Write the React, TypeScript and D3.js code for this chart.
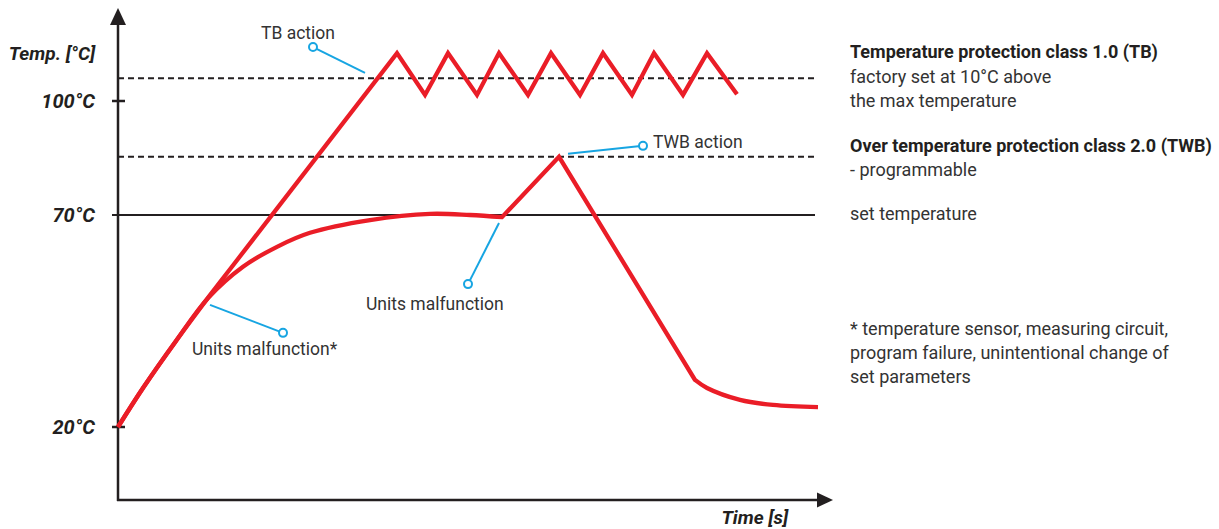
import React from "react";
import * as d3 from "d3";

// ---- data (time in arbitrary units, temperature in °C) ----
const yTickValues = [20, 70, 100];
const yTickLabels = ["20°C", "70°C", "100°C"];
const setTemperature = 70;
const tbLevel = 106;
const twbLevel = 85.3;

// shared heating start (curved)
const heatStart: [number, number][] = [
  [0, 20], [2.5, 29.2], [5.8, 40.3], [9.2, 51.1], [11.2, 57.2],
];
// TB curve: straight rise then on/off oscillation around TB level
const tbRise: [number, number][] = [[11.2, 57.2], [27.9, 112.6]];
const tbOscTime = [27.9, 30.7, 33.0, 35.9, 38.1, 41.0, 43.3, 46.2, 48.5, 51.4, 53.6, 56.5, 58.9, 61.9];
const tbOscTemp = [112.6, 101.6, 112.6, 101.6, 112.6, 101.6, 112.6, 101.6, 112.6, 101.6, 112.6, 101.6, 112.6, 101.8];

// TWB curve: approach set temperature, malfunction, TWB cut-off, cooling
const twbApproach: [number, number][] = [
  [0, 20], [2.5, 29.2], [5.8, 40.3], [9.0, 50.4], [12.5, 57.8], [15.9, 62.5], [19.2, 65.8],
  [25.2, 68.8], [31.2, 70.3], [35.2, 70.0], [38.4, 69.5],
];
const twbRiseFall: [number, number][] = [[38.4, 69.5], [44.1, 85.3], [57.7, 31.1]];
const twbCooling: [number, number][] = [
  [57.7, 31.1], [58.9, 29.2], [62.2, 26.4], [65.5, 25.2], [70.0, 24.7],
];

// callouts: line start (t, T) and circle (t, T)
const callouts = [
  { label: "TB action", from: [24.7, 107.4], to: [19.5, 114.2], tx: 261, ty: 39 },
  { label: "TWB action", from: [45.0, 86.1], to: [52.5, 88.2], tx: 653, ty: 148 },
  { label: "Units malfunction", from: [38.1, 68.1], to: [35.0, 53.7], tx: 366, ty: 310 },
  { label: "Units malfunction*", from: [9.2, 48.8], to: [16.5, 42.2], tx: 192, ty: 355 },
];

const notes = [
  { text: "Temperature protection class 1.0 (TB)", bold: true, y: 58 },
  { text: "factory set at 10°C above", bold: false, y: 83 },
  { text: "the max temperature", bold: false, y: 107 },
  { text: "Over temperature protection class 2.0 (TWB)", bold: true, y: 152 },
  { text: "- programmable", bold: false, y: 176 },
  { text: "set temperature", bold: false, y: 220 },
  { text: "* temperature sensor, measuring circuit,", bold: false, y: 335 },
  { text: "program failure, unintentional change of", bold: false, y: 359 },
  { text: "set parameters", bold: false, y: 383 },
];

const RED = "#ea1d27";
const BLUE = "#17a5e2";
const DARK = "#231f20";
const TEXT = "#333333";
const FONT = "Roboto, 'Open Sans', sans-serif";

export default function App() {
  const x = d3.scaleLinear().domain([0, 70]).range([118, 818]);
  const y = d3.scaleLinear().domain([20, 70, 100]).range([427, 215, 101]);

  const smooth = d3.line<[number, number]>().x(d => x(d[0])).y(d => y(d[1])).curve(d3.curveCatmullRom.alpha(0.5));
  const straight = d3.line<[number, number]>().x(d => x(d[0])).y(d => y(d[1])).curve(d3.curveLinear);
  const join = (segs: string[]) => segs.map((d, i) => (i === 0 ? d : "L" + d.slice(1))).join("");

  const tbOsc: [number, number][] = tbOscTime.map((t, i) => [t, tbOscTemp[i]]);
  const tbPath = join([smooth(heatStart)!, straight(tbRise)!, straight(tbOsc)!]);
  const twbPath = join([smooth(twbApproach)!, straight(twbRiseFall)!, smooth(twbCooling)!]);

  const x0 = x(0);
  const yAxisBottom = 500;
  const lineEnd = 815;

  return (
    <svg width={1219} height={529} style={{ position: "absolute", left: 0, top: 0, background: "#fff" }} fontFamily={FONT}>
      {/* reference lines */}
      <line x1={x0} x2={lineEnd} y1={y(tbLevel)} y2={y(tbLevel)} stroke={DARK} strokeWidth={2} strokeDasharray="6 4" />
      <line x1={x0} x2={lineEnd} y1={y(twbLevel)} y2={y(twbLevel)} stroke={DARK} strokeWidth={2} strokeDasharray="6 4" />
      <line x1={x0 - 6} x2={lineEnd} y1={y(setTemperature)} y2={y(setTemperature)} stroke={DARK} strokeWidth={2} />

      {/* axes */}
      <line x1={x0} x2={x0} y1={yAxisBottom + 1} y2={22} stroke={DARK} strokeWidth={2.5} />
      <path d={`M${x0},8 L${x0 - 8},25 L${x0 + 8},25 Z`} fill={DARK} />
      <line x1={x0 - 1} x2={820} y1={yAxisBottom} y2={yAxisBottom} stroke={DARK} strokeWidth={2.5} />
      <path d={`M833,${yAxisBottom} L817,${yAxisBottom - 7.5} L817,${yAxisBottom + 7.5} Z`} fill={DARK} />
      {yTickValues.map((v, i) => (
        <g key={v}>
          {v !== setTemperature && (
            <line x1={x0 - 6} x2={x0 + 7} y1={y(v)} y2={y(v)} stroke={DARK} strokeWidth={2.5} />
          )}
          <text x={95} y={y(v) + 7} textAnchor="end" fontSize={20} fontWeight={700} fontStyle="italic" fill={DARK}>
            {yTickLabels[i]}
          </text>
        </g>
      ))}
      <text x={95} y={60} textAnchor="end" fontSize={19} fontWeight={700} fontStyle="italic" fill={DARK}>Temp. [°C]</text>
      <text x={788} y={524} textAnchor="end" fontSize={19} fontWeight={700} fontStyle="italic" fill={DARK}>Time [s]</text>

      {/* curves */}
      <path d={tbPath} fill="none" stroke={RED} strokeWidth={4.3} strokeLinejoin="miter" />
      <path d={twbPath} fill="none" stroke={RED} strokeWidth={4.3} strokeLinejoin="miter" />

      {/* callouts */}
      {callouts.map(c => (
        <g key={c.label}>
          <line x1={x(c.from[0])} y1={y(c.from[1])} x2={x(c.to[0])} y2={y(c.to[1])} stroke={BLUE} strokeWidth={2} />
          <circle cx={x(c.to[0])} cy={y(c.to[1])} r={4} fill="#fff" stroke={BLUE} strokeWidth={2} />
          <text x={c.tx} y={c.ty} fontSize={17.5} fill={TEXT}>{c.label}</text>
        </g>
      ))}

      {/* side notes */}
      {notes.map(n => (
        <text key={n.text} x={850} y={n.y} fontSize={18} fontWeight={n.bold ? 700 : 400} fill={n.bold ? DARK : TEXT}>
          {n.text}
        </text>
      ))}
    </svg>
  );
}
